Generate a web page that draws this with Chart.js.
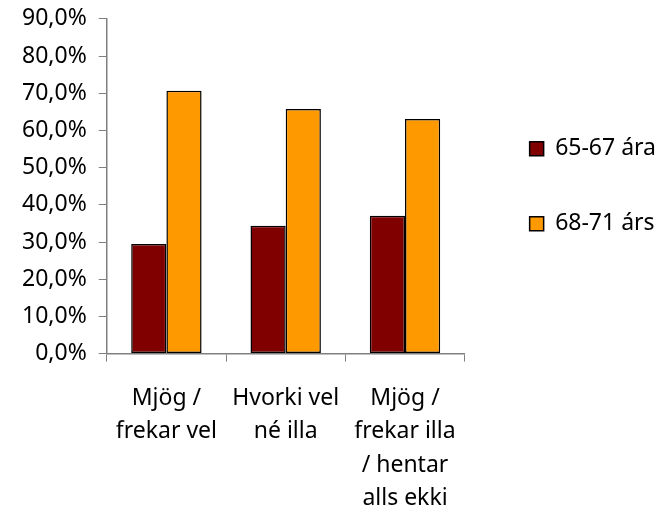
<!DOCTYPE html>
<html>
<head>
<meta charset="utf-8">
<script src="https://cdn.jsdelivr.net/npm/chart.js@4"></script>
<style>
  body { margin: 0; background: #fff; }
</style>
</head>
<body>
<canvas id="myChart" width="667" height="508"></canvas>
<script>
const categories = [
  ["Mjög /", "frekar vel"],
  ["Hvorki vel", "né illa"],
  ["Mjög /", "frekar illa", "/ hentar", "alls ekki"]
];
const seriesNames = ["65-67 ára", "68-71 árs"];
const young = [29.5, 34.4, 37.1];
const old = [70.7, 65.8, 63.1];

Chart.defaults.font.family = "'Noto Sans', sans-serif";
Chart.defaults.font.size = 23;
Chart.defaults.color = "#000";

let config = {
  type: "bar",
  data: {
    labels: categories,
    datasets: [{
      label: seriesNames[0],
      data: young,
      backgroundColor: "#800000",
      borderColor: "#000",
      borderWidth: 1.5,
      borderSkipped: false,
    }, {
      label: seriesNames[1],
      data: old,
      backgroundColor: "#FF9900",
      borderColor: "#000",
      borderWidth: 1.5,
      borderSkipped: false,
    }],
  },
  options: {
    responsive: false,
    animation: false,
    layout: {
      padding: { top: 0, right: 1, left: 10, bottom: -27 }
    },
    datasets: {
      bar: { categoryPercentage: 0.59, barPercentage: 1 }
    },
    plugins: {
      legend: {
        position: "right",
        fullSize: false,
        maxWidth: 220,
        labels: {
          boxWidth: 14,
          boxHeight: 14,
          padding: 52,
          color: "#000",
          font: { size: 23 }
        }
      },
      tooltip: { enabled: false }
    },
    scales: {
      x: {
        border: { color: "#808080", width: 1.5 },
        grid: {
          drawOnChartArea: false,
          tickLength: 8,
          color: "#808080",
          offset: true,
        },
        ticks: {
          maxRotation: 0,
          padding: 20,
          font: { size: 23, lineHeight: 1.45 }
        }
      },
      y: {
        min: 0,
        max: 90,
        border: { color: "#808080", width: 1.5 },
        grid: {
          drawOnChartArea: false,
          tickLength: 8,
          color: "#808080",
        },
        ticks: {
          stepSize: 10,
          padding: 12,
          font: { size: 23, lineHeight: 0.6 },
          callback: (v) => v.toFixed(1).replace(".", ",") + "%",
        }
      },
      // empty gap between the plot and the legend
      gap: {
        position: "right",
        grid: { display: false },
        border: { display: false },
        ticks: { display: false },
        afterFit: (scale) => { scale.width = 13; }
      }
    }
  },
};

const ctx = document.getElementById("myChart").getContext("2d");
const myChart = new Chart(ctx, config);
</script>
</body>
</html>
